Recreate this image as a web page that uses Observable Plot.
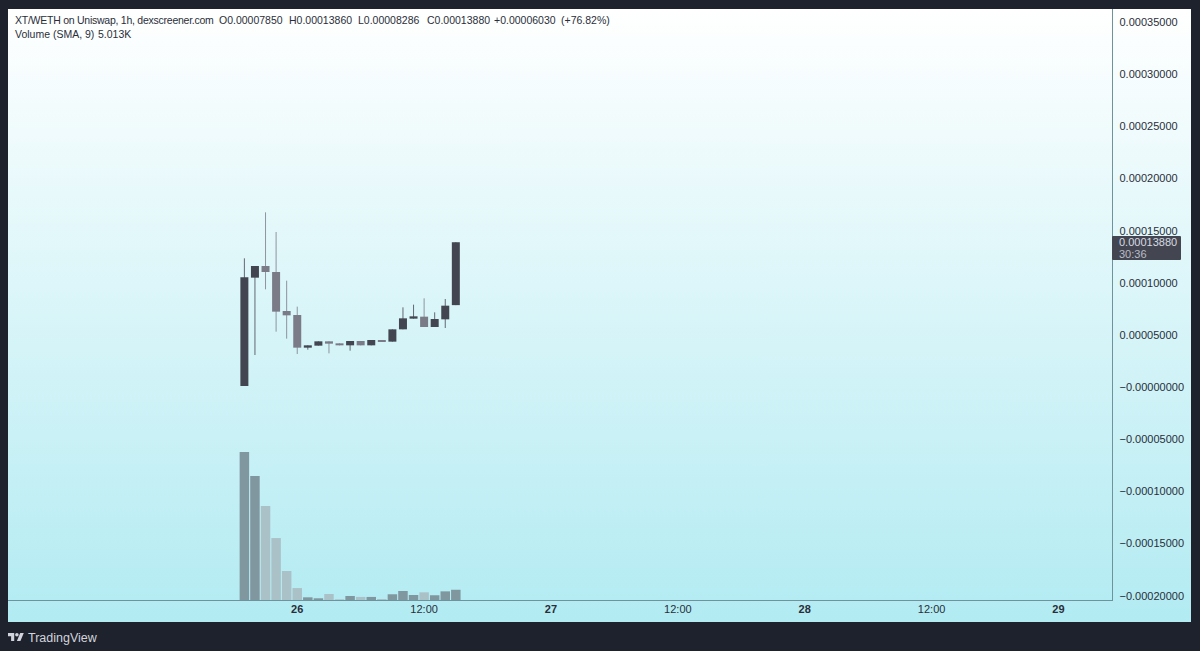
<!DOCTYPE html>
<html>
<head>
<meta charset="utf-8">
<script src="https://cdn.jsdelivr.net/npm/d3@7"></script>
<script src="https://cdn.jsdelivr.net/npm/@observablehq/plot@0.6"></script>
<style>
  html, body { margin: 0; padding: 0; background: #1e222d; }
  #stage { position: relative; width: 1200px; height: 651px; overflow: hidden; font-family: "Liberation Sans", Helvetica, Arial, sans-serif; }
  #panel { position: absolute; left: 8px; top: 9px; width: 1183px; height: 613px; background: linear-gradient(to bottom, #ffffff 0%, #b2ebf2 100%); }
  #chart { position: absolute; left: 0; top: 0; }
  #chart svg { background: transparent; display: block; }
  .lg { position: absolute; font-size: 10.5px; line-height: 14px; color: #2a2e39; white-space: nowrap; }
  #badge { position: absolute; left: 1112px; width: 69px; height: 24px; background: #434651; border-radius: 1px; color: #d8dae2; font-size: 11px; line-height: 12px; }
  #badge div { padding-left: 7px; white-space: nowrap; }
  #badge div + div { color: #b9bcc6; }
  #brand { position: absolute; left: 8px; top: 631px; height: 13px; display: flex; align-items: center; color: #d1d4dc; font-size: 12.5px; }
</style>
</head>
<body>
<div id="stage">
  <div id="panel"></div>
  <div id="chart"></div>
  <span class="lg" style="left:15px;top:13px;letter-spacing:-0.25px">XT/WETH on Uniswap, 1h, dexscreener.com</span>
  <span class="lg" style="left:219px;top:13px">O0.00007850</span>
  <span class="lg" style="left:289px;top:13px">H0.00013860</span>
  <span class="lg" style="left:358px;top:13px">L0.00008286</span>
  <span class="lg" style="left:427px;top:13px">C0.00013880</span>
  <span class="lg" style="left:494px;top:13px">+0.00006030</span>
  <span class="lg" style="left:561px;top:13px">(+76.82%)</span>
  <span class="lg" style="left:15px;top:27px">Volume (SMA, 9)</span>
  <span class="lg" style="left:98px;top:27px">5.013K</span>
  <div id="badge"><div>0.00013880</div><div>30:36</div></div>
  <div id="brand">
    <svg width="16" height="13" viewBox="0 0 36 28" style="margin-right:4px"><path fill="#d1d4dc" d="M14 22H7V11H0V4h14v18zM28 22h-8l7.5-18h8L28 22z"/><circle fill="#d1d4dc" cx="20" cy="8" r="4"/></svg>
    <span>TradingView</span>
  </div>
</div>
<script>
// Hourly candles (prices in WETH)
const opens  = [0.00000096,0.00010483,0.00011601,0.00011026,0.00007287,0.00006903,0.00003771,0.00003963,0.00004379,0.00004187,0.00003995,0.00004410,0.00003995,0.00004506,0.00004346,0.00005529,0.00006552,0.00006743,0.00005753,0.00006488,0.00007850];
const closes = [0.00010514,0.00011601,0.00011026,0.00007223,0.00006871,0.00003771,0.00003995,0.00004379,0.00004155,0.00003995,0.00004410,0.00003995,0.00004506,0.00004315,0.00005529,0.00006584,0.00006776,0.00005753,0.00006520,0.00007798,0.00013880];
const highs  = [0.00012337,0.00011601,0.00016747,0.00014861,0.00010195,0.00007702,0.00003995,0.00004379,0.00004379,0.00004187,0.00004410,0.00004410,0.00004506,0.00004506,0.00005529,0.00007639,0.00007894,0.00008502,0.00007159,0.00008437,0.00013880];
const lows   = [0.00000096,0.00003068,0.00009364,0.00005305,0.00004634,0.00003164,0.00003579,0.00003963,0.00003228,0.00003995,0.00003483,0.00003995,0.00003995,0.00004315,0.00004346,0.00005529,0.00006552,0.00005753,0.00005753,0.00005657,0.00007850];
const volumesK = [121.4,101.7,77.1,50.8,23.8,9.8,2.2,1.4,4.9,0.6,3.3,2.5,2.5,0.8,4.7,7.4,4.1,6.3,3.9,7.1,8.4];

const firstCandle = Date.UTC(2023, 6, 25, 19);
const hour = 3600e3;
const candles = opens.map((o, i) => ({
  t: new Date(firstCandle + i * hour), open: o, close: closes[i], high: highs[i], low: lows[i], vol: volumesK[i]
}));

const dayTicks = [26, 27, 28, 29];
const halfDayTicks = [26, 27, 28];
const priceTicks = [0.00035,0.0003,0.00025,0.0002,0.00015,0.0001,0.00005,0,-0.00005,-0.0001,-0.00015,-0.0002];

const yMin = -0.00020422, yMax = 0.00036242;
const volToPrice = 1.169e-6; // overlay: thousands of volume to price-scale height

const upBody = "#434651", downBody = "#7b7b88";
const upVol = "#80979f", downVol = "#abc1c8";
const lineCol = "#6f939c", textCol = "#2a2e39";

const plot = Plot.plot({
  width: 1200, height: 651,
  marginLeft: 8, marginRight: 88, marginTop: 9, marginBottom: 51,
  style: { background: "transparent", fontFamily: '"Liberation Sans", Helvetica, Arial, sans-serif', fontSize: "11px", overflow: "visible" },
  x: { type: "utc", domain: [new Date(Date.UTC(2023,6,26) - 27.31 * hour), new Date(Date.UTC(2023,6,26) + 77.11 * hour)] },
  y: { domain: [yMin, yMax] },
  marks: [
    Plot.ruleX(candles, { x: "t", y1: () => yMin, y2: d => yMin + d.vol * volToPrice,
      stroke: d => d.close >= d.open ? upVol : downVol, strokeWidth: 9.5 }),
    Plot.ruleX(candles, { x: "t", y1: "low", y2: "high",
      stroke: d => d.close >= d.open ? upBody : downBody, strokeWidth: 1, strokeOpacity: 0.8 }),
    Plot.ruleX(candles, { x: "t", y1: "open", y2: "close",
      stroke: d => d.close >= d.open ? upBody : downBody, strokeWidth: 8 }),
    Plot.frame({ anchor: "right", stroke: lineCol }),
    Plot.frame({ anchor: "bottom", stroke: lineCol }),
    Plot.axisY({ anchor: "right", ticks: priceTicks, tickSize: 0, tickPadding: 7, label: null,
      tickFormat: d => (d <= 0 ? "\u2212" + Math.abs(d).toFixed(8) : d.toFixed(8)), fill: textCol, fontSize: 11, fontVariant: "normal" }),
    Plot.axisX({ anchor: "bottom", ticks: dayTicks.map(d => new Date(Date.UTC(2023,6,d))), tickSize: 0, tickPadding: 5, label: null,
      tickFormat: d3.utcFormat("%-d"), fill: textCol, fontWeight: "bold", fontSize: 11 }),
    Plot.axisX({ anchor: "bottom", ticks: halfDayTicks.map(d => new Date(Date.UTC(2023,6,d,12))), tickSize: 0, tickPadding: 5, label: null,
      tickFormat: d3.utcFormat("%H:%M"), fill: textCol, fontSize: 11 })
  ]
});
document.getElementById("chart").appendChild(plot);
document.getElementById("badge").style.top = (plot.scale("y").apply(closes[closes.length - 1]) - 6) + "px";
</script>
</body>
</html>
